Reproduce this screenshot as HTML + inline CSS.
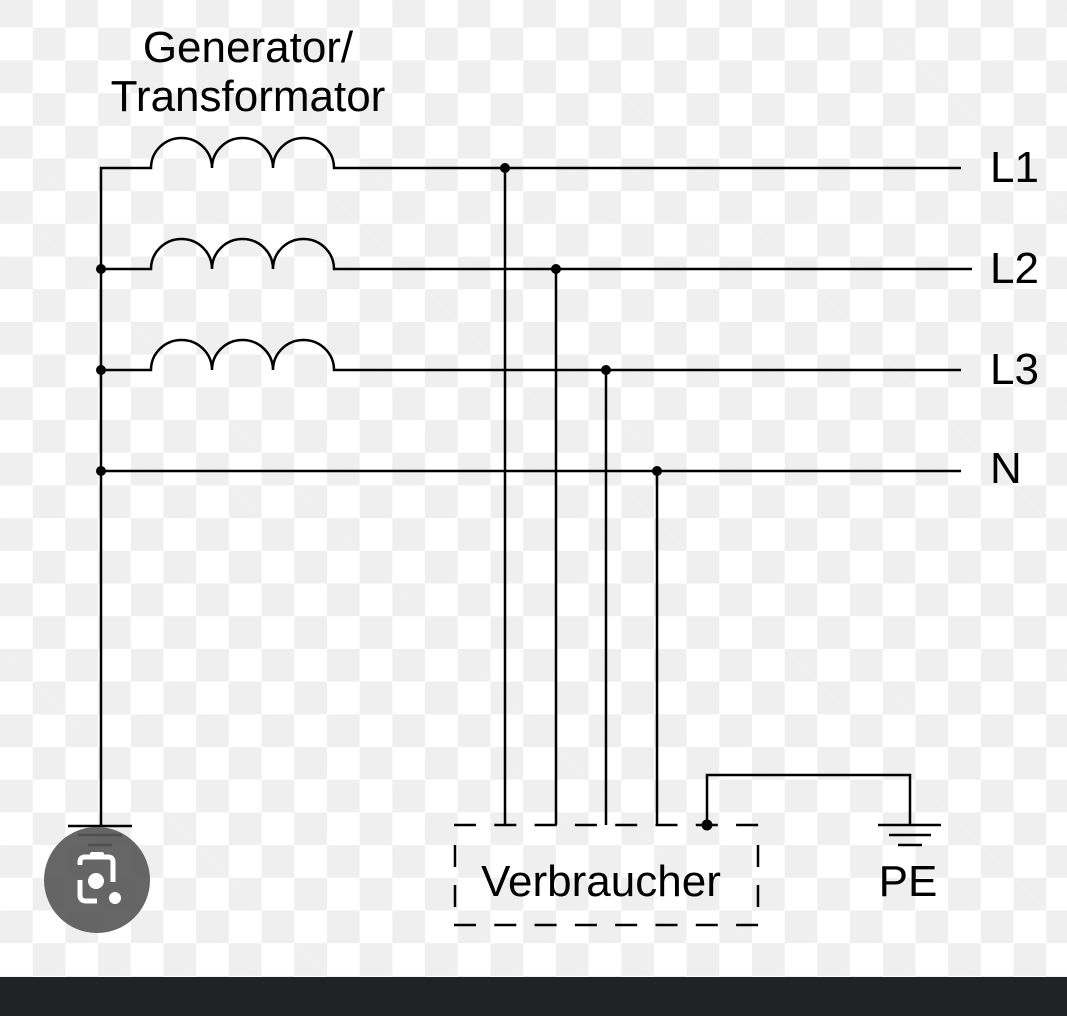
<!DOCTYPE html>
<html><head><style>
html,body{margin:0;padding:0;width:1067px;height:1016px;overflow:hidden}
body{background-color:#fff;background-image:
linear-gradient(45deg,#efefef 25%,transparent 25%,transparent 75%,#efefef 75%),
linear-gradient(45deg,#efefef 25%,transparent 25%,transparent 75%,#efefef 75%);
background-size:65.4px 65.4px;background-position:32.7px -5px,0 27.7px;}
svg{position:absolute;left:0;top:0}
text{font-family:"Liberation Sans",sans-serif;font-size:44px;fill:#000}
</style></head><body>
<svg width="1067" height="1016" viewBox="0 0 1067 1016">
<g stroke="#000" stroke-width="2.5" fill="none">
<path d="M101 826 V168 H151 A30.5 30 0 0 1 212 168 A30.5 30 0 0 1 273 168 A30.5 30 0 0 1 334 168 H961"/>
<path d="M101 269 H151 A30.5 30 0 0 1 212 269 A30.5 30 0 0 1 273 269 A30.5 30 0 0 1 334 269 H972"/>
<path d="M101 370 H151 A30.5 30 0 0 1 212 370 A30.5 30 0 0 1 273 370 A30.5 30 0 0 1 334 370 H961"/>
<path d="M101 471 H961"/>
<path d="M505 168 V825 M556 269 V825 M606 370 V825 M657 471 V825"/>
<path d="M68 826 H132 M78 835 H122 M88 845 H112"/>
<path d="M707 825 V775 H910 V825 M878 825 H941 M889 835 H931 M898 845 H922"/>
<path d="M454 825 H759 M454 925 H759" stroke-dasharray="22 18.3"/>
<path d="M455 845 V867 M455 885 V907 M758 845 V867 M758 885 V907"/>
</g>
<g fill="#000">
<circle cx="101" cy="269" r="5"/><circle cx="101" cy="370" r="5"/><circle cx="101" cy="471" r="5"/>
<circle cx="505" cy="168" r="5"/><circle cx="556" cy="269" r="5"/><circle cx="606" cy="370" r="5"/><circle cx="657" cy="471" r="5"/>
<circle cx="707" cy="825" r="5.5"/>
</g>
<text x="248" y="62" text-anchor="middle" font-size="40">Generator/</text>
<text x="248" y="111" text-anchor="middle" font-size="40">Transformator</text>
<text x="990" y="182">L1</text>
<text x="990" y="283">L2</text>
<text x="990" y="384">L3</text>
<text x="990" y="483">N</text>
<text x="601" y="896" text-anchor="middle">Verbraucher</text>
<text x="908" y="896" text-anchor="middle">PE</text>
<circle cx="97" cy="880" r="53" fill="#555" fill-opacity="0.9"/>
<g stroke="#fff" stroke-width="5" fill="none">
<path d="M80 865 V862 Q80 857 85 857 H108 Q113 857 113 862 V882"/>
<path d="M80 880 V895 Q80 901 86 901 H97"/>
</g>
<rect x="90" y="852" width="14" height="6" rx="2" fill="#fff"/>
<circle cx="96" cy="881" r="8" fill="#fff"/>
<circle cx="115" cy="898" r="6" fill="#fff"/>
<rect x="0" y="977" width="1067" height="39" fill="#212226"/>
</svg>
</body></html>
